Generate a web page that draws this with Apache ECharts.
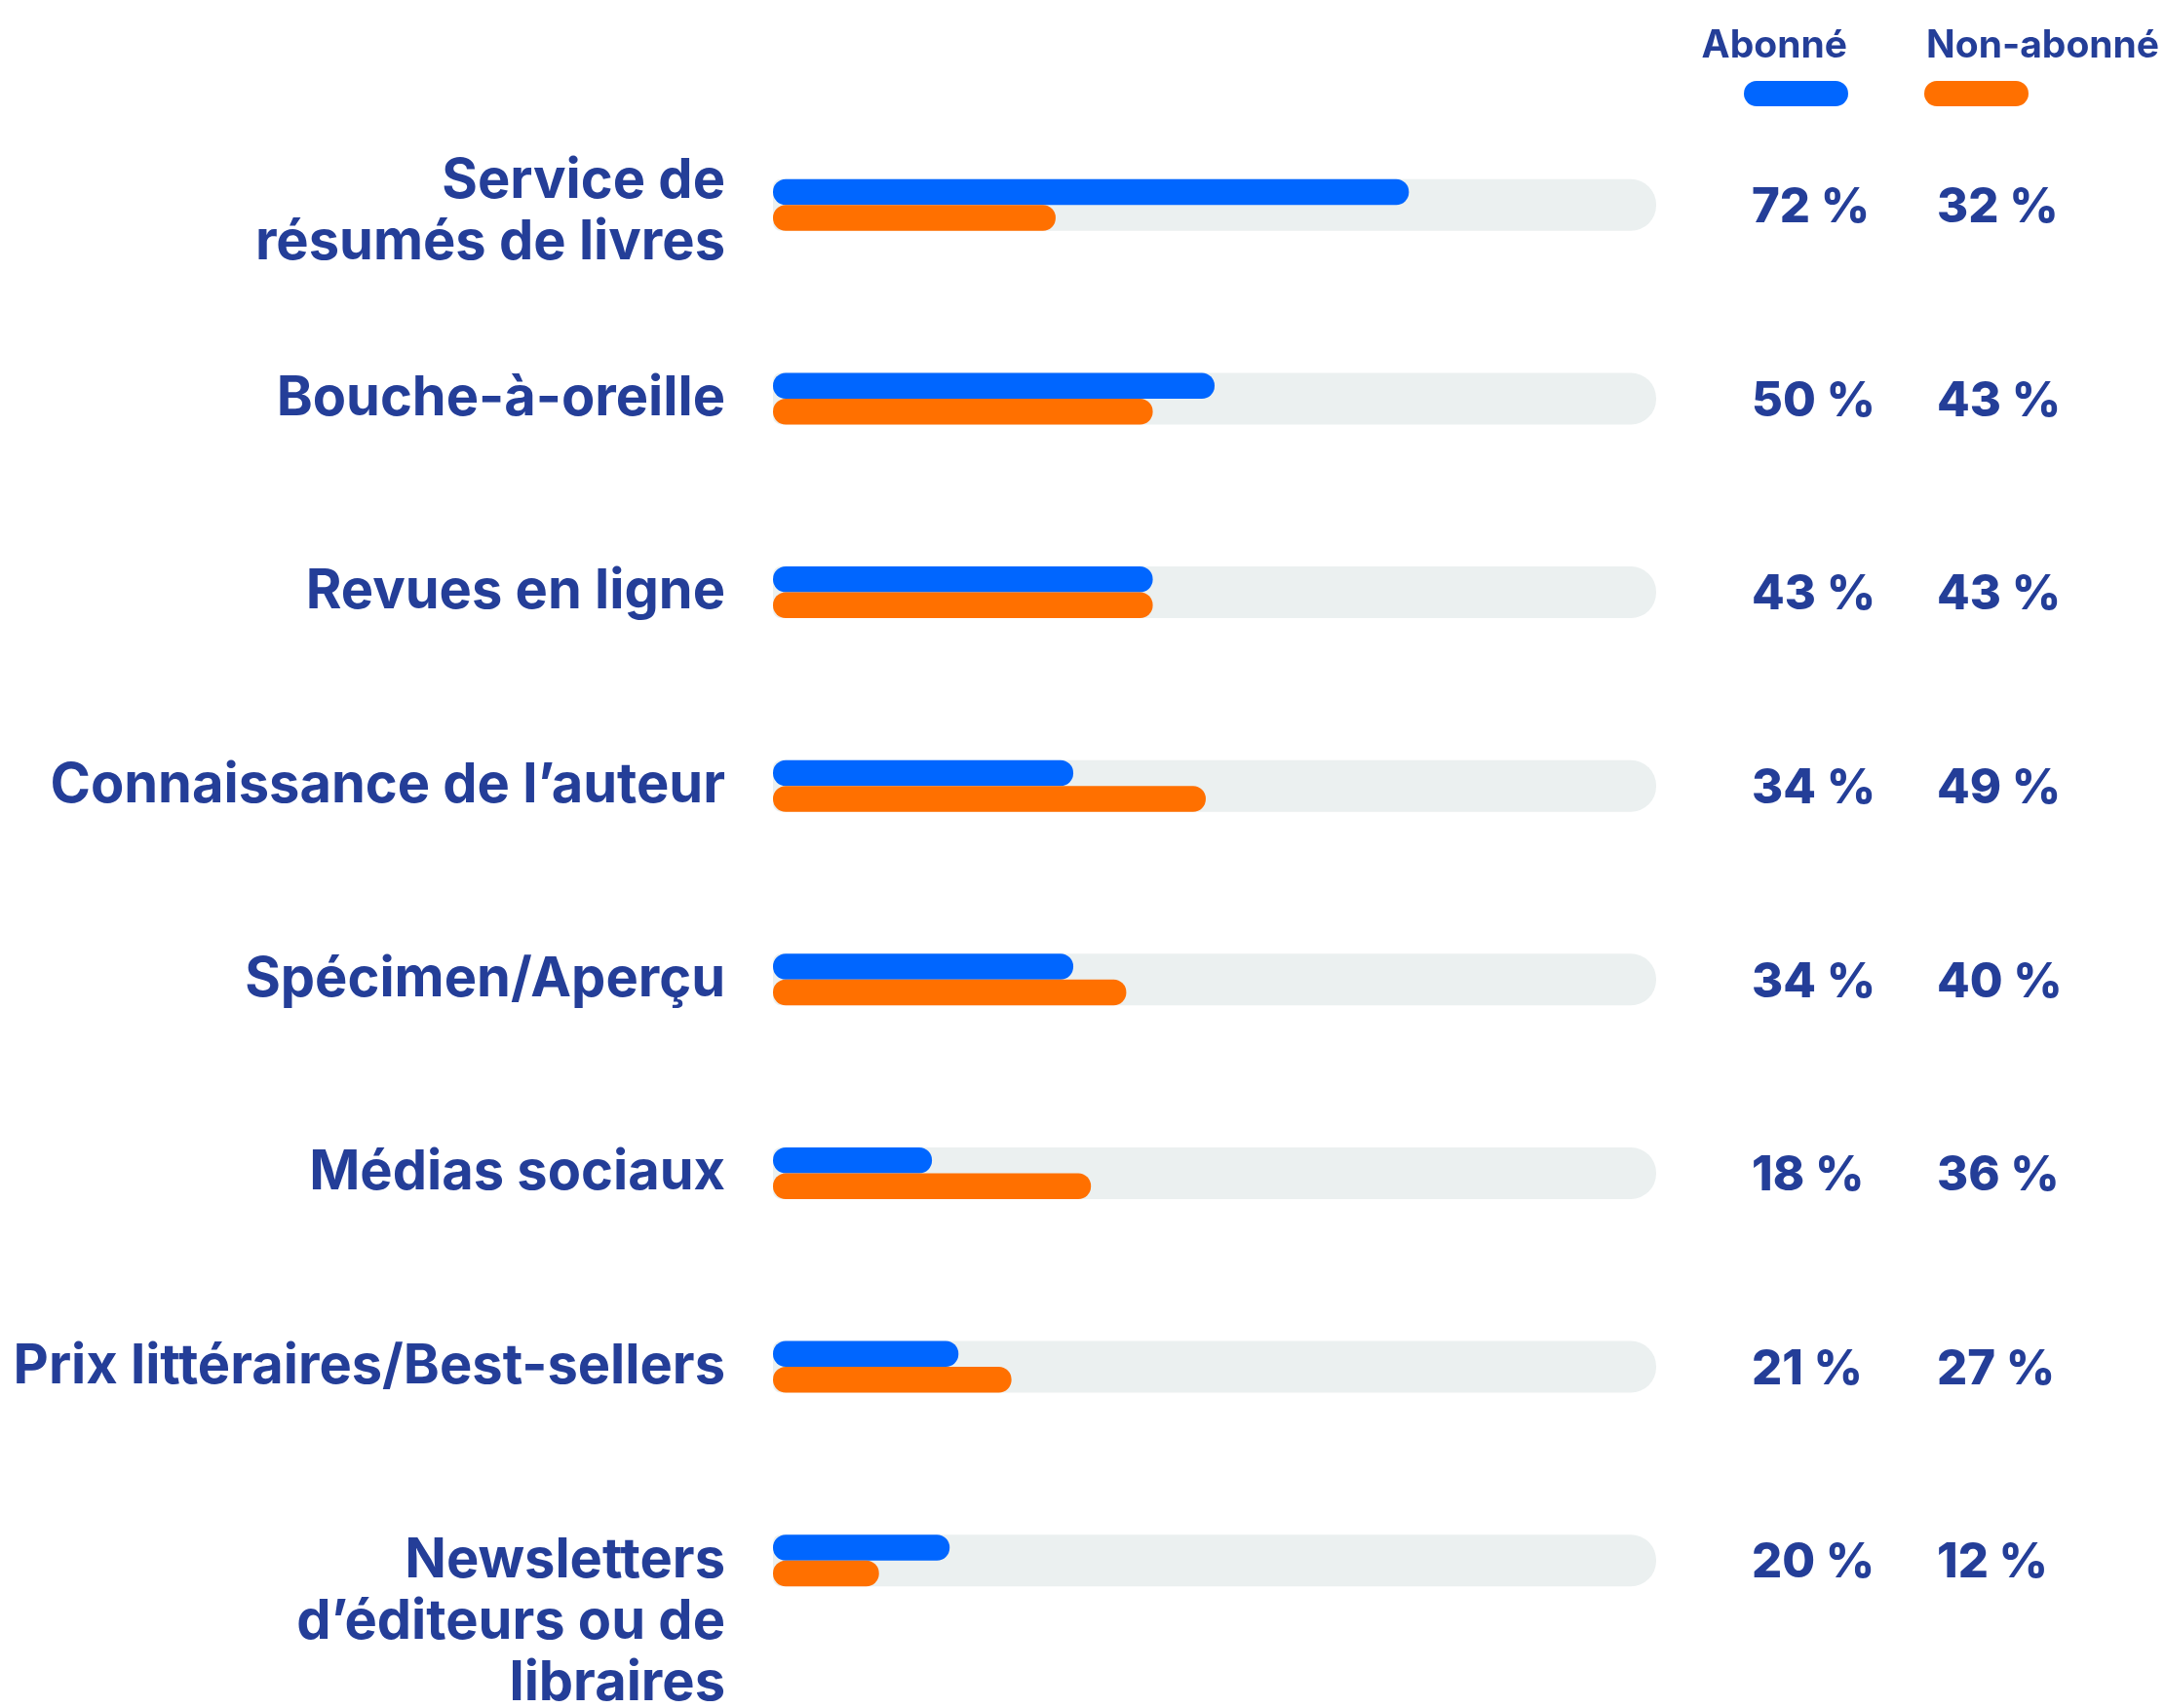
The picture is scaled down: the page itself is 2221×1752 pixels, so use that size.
<!DOCTYPE html>
<html>
<head>
<meta charset="utf-8">
<script src="https://cdn.jsdelivr.net/npm/echarts@6/dist/echarts.min.js"></script>
<style>
  html, body { margin: 0; padding: 0; background: #fff; }
  #main { width: 2221px; height: 1752px; }
</style>
</head>
<body>
<div id="main"></div>
<script>
// data
var categories = [
  'Service de\nrésumés de livres',
  'Bouche-à-oreille',
  'Revues en ligne',
  'Connaissance de l’auteur',
  'Spécimen/Aperçu',
  'Médias sociaux',
  'Prix littéraires/Best-sellers',
  '\n\nNewsletters\nd’éditeurs ou de\nlibraires'
];
var seriesNames = ['Abonné', 'Non-abonné'];
var abonne = [72, 50, 43, 34, 34, 18, 21, 20];
var nonAbonne = [32, 43, 43, 49, 40, 36, 27, 12];
var track = [100, 100, 100, 100, 100, 100, 100, 100];

var textColor = '#243e98';
var blue = '#0066ff';
var orange = '#ff7000';
var font = 'Inter, "Open Sans", sans-serif';

var myChart = echarts.init(document.getElementById('main'));

var labelStyle = { fontFamily: font, fontWeight: 'bold', fontSize: 56, lineHeight: 63, color: textColor };

var option = {
  backgroundColor: '#fff',
  animation: false,
  grid: { left: 793, right: 522, top: 111, bottom: 52, outerBoundsMode: 'none', containLabel: false },
  xAxis: {
    type: 'value', min: 0, max: 100, show: false
  },
  yAxis: [
    {
      type: 'category',
      inverse: true,
      data: categories,
      axisLine: { show: false },
      axisTick: { show: false },
      splitLine: { show: false },
      axisLabel: {
        margin: 49,
        color: textColor,
        fontFamily: font,
        fontWeight: 'bold',
        fontSize: 56,
        lineHeight: 63,
        align: 'right',
        // the two-line first label sits a little below its row centre
        formatter: function (value, index) {
          if (index === 0) {
            return '{pad| }\n' + value.split('\n').map(function (l) { return '{t|' + l + '}'; }).join('\n');
          }
          return value;
        },
        rich: {
          pad: { fontSize: 1, lineHeight: 14 },
          t: labelStyle
        }
      }
    },
    {
      type: 'category',
      inverse: true,
      data: categories,
      show: false
    }
  ],
  series: [
    {
      name: 'track',
      type: 'bar',
      yAxisIndex: 1,
      data: track,
      barWidth: 53,
      silent: true,
      itemStyle: { color: '#ebf0f0', borderRadius: [8, 26, 26, 8] },
      label: {
        show: true,
        position: 'right',
        distance: 98,
        formatter: function (p) {
          return '{a|' + abonne[p.dataIndex] + ' %}{b|' + nonAbonne[p.dataIndex] + ' %}';
        },
        rich: {
          a: { width: 190, fontSize: 49, fontWeight: 800, fontFamily: font, color: textColor, padding: [6, 0, 0, 0] },
          b: { fontSize: 49, fontWeight: 800, fontFamily: font, color: textColor, padding: [6, 0, 0, 0] }
        }
      }
    },
    {
      name: seriesNames[0],
      type: 'bar',
      yAxisIndex: 0,
      data: abonne,
      barWidth: 26.5,
      barGap: '0%',
      itemStyle: { color: blue, borderRadius: 13 }
    },
    {
      name: seriesNames[1],
      type: 'bar',
      yAxisIndex: 0,
      data: nonAbonne,
      barWidth: 26.5,
      barGap: '0%',
      itemStyle: { color: orange, borderRadius: 13 }
    }
  ],
  graphic: [
    {
      type: 'text', right: 2221 - 1895, top: 28,
      style: { text: seriesNames[0], fill: textColor, font: 'bold 39px ' + font, textAlign: 'right' }
    },
    {
      type: 'rect', left: 1789, top: 83,
      shape: { width: 107, height: 26, r: 13 },
      style: { fill: blue }
    },
    {
      type: 'text', left: 1976, top: 28,
      style: { text: seriesNames[1], fill: textColor, font: 'bold 39px ' + font }
    },
    {
      type: 'rect', left: 1974, top: 83,
      shape: { width: 107, height: 26, r: 13 },
      style: { fill: orange }
    }
  ]
};

myChart.setOption(option);
</script>
</body>
</html>
